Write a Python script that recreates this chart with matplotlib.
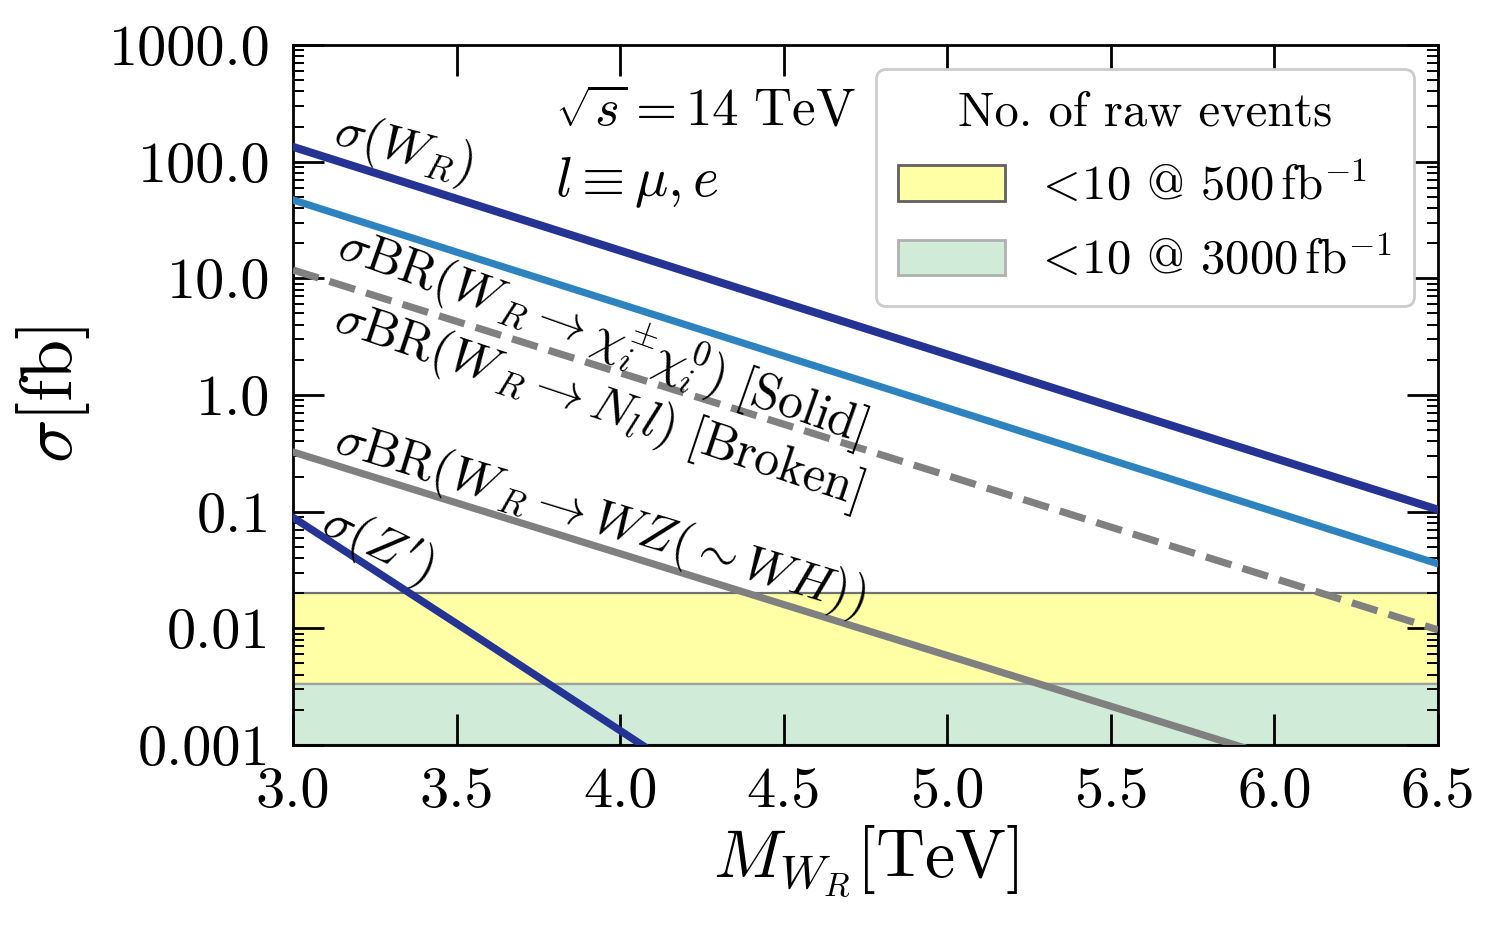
import matplotlib
matplotlib.use('Agg')
import matplotlib.pyplot as plt
from matplotlib.patches import Patch
from matplotlib.ticker import FixedLocator, FixedFormatter, LogLocator, NullFormatter, NullLocator

# ---------------- data ----------------
mass = [3.0, 3.5, 4.0, 4.5, 5.0, 5.5, 6.0, 6.5]
sigma_WR = [134.0, 48.1, 17.3, 6.2, 2.23, 0.80, 0.288, 0.104]
sigma_chi = [47.0, 16.8, 6.04, 2.16, 0.776, 0.278, 0.0998, 0.0357]
sigma_Nl = [11.8, 4.28, 1.55, 0.562, 0.204, 0.0738, 0.0268, 0.0097]
sigma_WZ = [0.325, 0.119, 0.0437, 0.016, 0.00586, 0.00215, 0.000787, 0.000288]
mass_Zp = [3.0, 3.5, 4.0, 4.5]
sigma_Zp = [0.0893, 0.011, 0.00133, 0.00016]

band_500 = 0.02       # 10 events @ 500 fb^-1
band_3000 = 0.00333   # 10 events @ 3000 fb^-1
band_floor = 0.001

xticks = [3.0, 3.5, 4.0, 4.5, 5.0, 5.5, 6.0, 6.5]
xtick_labels = ['3.0', '3.5', '4.0', '4.5', '5.0', '5.5', '6.0', '6.5']
yticks = [0.001, 0.01, 0.1, 1.0, 10.0, 100.0, 1000.0]
ytick_labels = ['0.001', '0.01', '0.1', '1.0', '10.0', '100.0', '1000.0']

legend_title = 'No. of raw events'
legend_labels = [r'$<\!$10 @ 500$\,\mathrm{fb}^{-1}$',
                 r'$<\!$10 @ 3000$\,\mathrm{fb}^{-1}$']

# ---------------- style ----------------
plt.rcParams['font.family'] = 'serif'
plt.rcParams['font.serif'] = ['cmr10']
plt.rcParams['mathtext.fontset'] = 'cm'
plt.rcParams['axes.unicode_minus'] = False

c_dark = '#253494'
c_light = '#2c83c0'
c_gray = '#808080'
c_yellow = '#ffffa6'
c_green = '#d0ebd8'

fig = plt.figure(figsize=(7.5, 4.65), dpi=200)
ax = fig.add_axes([0.1953, 0.1989, 0.7634, 0.7527])

xs = [mass[0], mass[-1]]
ax.fill_between(xs, [band_3000] * 2, [band_500] * 2, facecolor=c_yellow,
                edgecolor='#707070', linewidth=0.8, zorder=1)
ax.fill_between(xs, [band_floor] * 2, [band_3000] * 2, facecolor=c_green,
                edgecolor='#a0a0a0', linewidth=0.8, zorder=1)

ax.plot(mass, sigma_WR, color=c_dark, lw=2.9, zorder=3)
ax.plot(mass, sigma_chi, color=c_light, lw=2.6, zorder=3)
ax.plot(mass, sigma_Nl, color=c_gray, lw=2.6, ls='--', zorder=3)
ax.plot(mass, sigma_WZ, color=c_gray, lw=2.6, zorder=3)
ax.plot(mass_Zp, sigma_Zp, color=c_dark, lw=2.7, zorder=4)

ax.set_yscale('log')
ax.set_xlim(3.0, 6.5)
ax.set_ylim(0.001, 1000.0)

ax.xaxis.set_major_locator(FixedLocator(xticks))
ax.xaxis.set_major_formatter(FixedFormatter(xtick_labels))
ax.xaxis.set_minor_locator(NullLocator())
ax.yaxis.set_major_locator(FixedLocator(yticks))
ax.yaxis.set_major_formatter(FixedFormatter(ytick_labels))
ax.yaxis.set_minor_locator(LogLocator(base=10, subs=range(2, 10), numticks=20))
ax.yaxis.set_minor_formatter(NullFormatter())

ax.tick_params(which='major', direction='in', top=True, right=True,
               length=11, width=1.0, labelsize=21, pad=8)
ax.tick_params(which='minor', direction='in', top=True, right=True,
               length=4, width=0.7)
for s in ax.spines.values():
    s.set_linewidth(1.0)

ax.set_xlabel(r'$M_{W_R}[\mathrm{TeV}]$', fontsize=24.5, labelpad=2)
ax.set_ylabel(r'$\sigma[\mathrm{fb}]$', fontsize=26, labelpad=6)

# annotations
tk = dict(fontsize=18, rotation_mode='anchor', ha='left', va='baseline', zorder=5)
ax.text(3.12, 142, r'$\sigma(W_R)$', rotation=-15, **tk)
ax.text(3.13, 15.0, r'$\sigma \mathrm{BR}(W_{\,R} \rightarrow \chi_i^{\pm}\chi_i^{0})\ [\mathrm{Solid}]$',
        rotation=-19.5, **tk)
ax.text(3.12, 3.6, r'$\sigma \mathrm{BR}(W_{\,R} \rightarrow N_l l)\ [\mathrm{Broken}]$',
        rotation=-18.5, **tk)
ax.text(3.12, 0.33, r'$\sigma \mathrm{BR}(W_{\,R} \rightarrow WZ(\sim WH))$',
        rotation=-17, **tk)
ax.text(3.08, 0.066, r"$\sigma(Z')$", rotation=-26, **tk)

ax.text(0.229, 0.904, r'$\sqrt{s} = 14\ \mathrm{TeV}$', transform=ax.transAxes,
        fontsize=19, ha='left', va='center')
ax.text(0.229, 0.803, r'$l \equiv \mu, e$', transform=ax.transAxes,
        fontsize=20, ha='left', va='center')

handles = [Patch(facecolor=c_yellow, edgecolor='#606060', linewidth=1.0),
           Patch(facecolor=c_green, edgecolor='#b0b0b0', linewidth=1.0)]
leg = ax.legend(handles, legend_labels, title=legend_title, loc='upper right',
                fontsize=17.5, title_fontsize=17.5, handlelength=2.2, handleheight=0.75,
                labelspacing=0.55, handletextpad=0.6, borderpad=0.45,
                framealpha=1.0, edgecolor='#cccccc', fancybox=True)
leg.set_zorder(10)

fig.savefig('out.png', dpi=200)
